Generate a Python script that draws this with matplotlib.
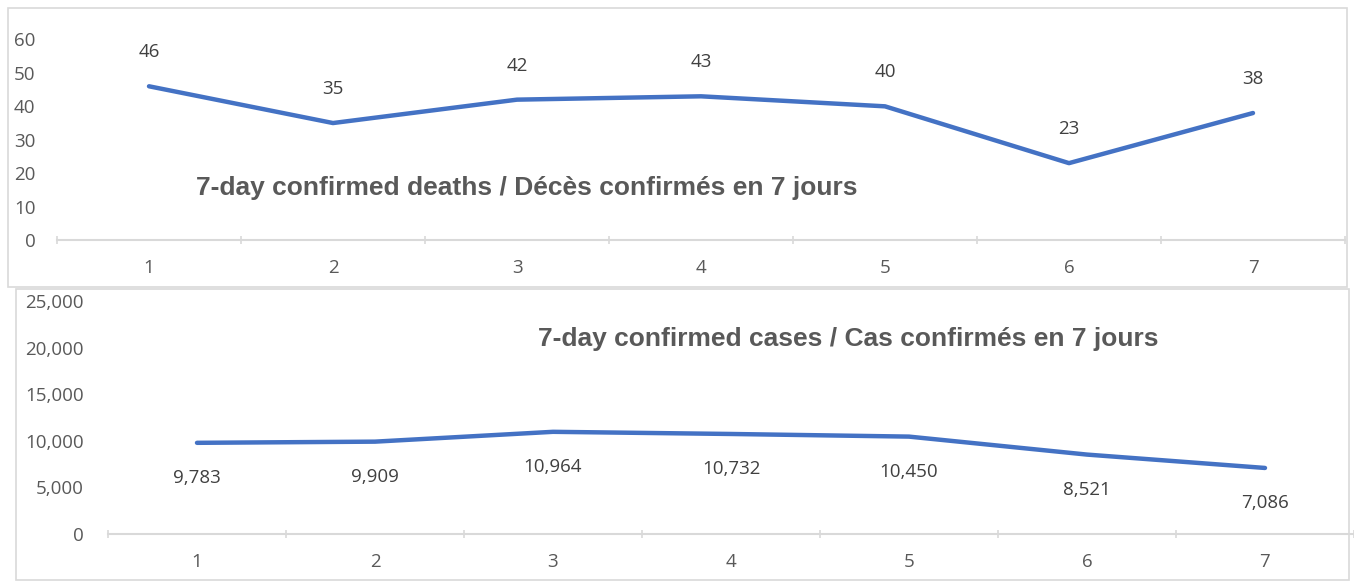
import matplotlib
matplotlib.use("Agg")
import matplotlib.pyplot as plt
from matplotlib.patches import Rectangle
from matplotlib.ticker import FuncFormatter, FixedLocator

days = [1, 2, 3, 4, 5, 6, 7]
deaths = [46, 35, 42, 43, 40, 23, 38]
cases = [9783, 9909, 10964, 10732, 10450, 8521, 7086]
deaths_title = "7-day confirmed deaths / Décès confirmés en 7 jours"
cases_title = "7-day confirmed cases / Cas confirmés en 7 jours"

W, H = 1354, 581
fig = plt.figure(figsize=(W / 100, H / 100), dpi=100)
fig.patch.set_facecolor("white")

LINE = "#4472C4"
TXT = "#595959"
LBL = "#404040"
GRID = "#D9D9D9"
FONT = ["Open Sans", "DejaVu Sans"]
FS = 13.5


def px_axes(x0, x1, y_top, y_bot):
    return fig.add_axes([x0 / W, (H - y_bot) / H, (x1 - x0) / W, (y_bot - y_top) / H])


def frame(x0, y0, x1, y1):
    fig.patches.append(Rectangle((x0 / W, (H - y1) / H), (x1 - x0) / W, (y1 - y0) / H,
                                 transform=fig.transFigure, fill=False,
                                 edgecolor=GRID, linewidth=1.2))


frame(8, 8, 1347, 287)
frame(16, 289, 1349, 580)


def style(ax, ylim, yticks, fmt, ypad):
    ax.set_xlim(0.5, 7.5)
    ax.set_ylim(*ylim)
    for s in ["left", "right", "top"]:
        ax.spines[s].set_visible(False)
    ax.spines["bottom"].set_color(GRID)
    ax.spines["bottom"].set_linewidth(1.5)
    ax.set_facecolor("none")
    ax.set_xticks(days)
    ax.set_xticklabels([str(d) for d in days], fontsize=FS, color=TXT, family=FONT)
    ax.tick_params(axis="x", which="major", length=0, pad=14)
    ax.xaxis.set_minor_locator(FixedLocator([d + 0.5 for d in [0] + days]))
    ax.tick_params(axis="x", which="minor", length=6, direction="inout", color=GRID, width=1.2)
    ax.set_yticks(yticks)
    ax.yaxis.set_major_formatter(FuncFormatter(fmt))
    ax.tick_params(axis="y", length=0, pad=ypad, labelsize=FS, labelcolor=TXT)
    for t in ax.get_yticklabels():
        t.set_family(FONT)


# Top: deaths
ax1 = px_axes(57, 1345, 39.5, 240)
ax1.plot(days, deaths, color=LINE, linewidth=3.2, solid_capstyle="round", clip_on=False)
style(ax1, (0, 60), range(0, 61, 10), lambda v, p: f"{int(v)}", 15.5)
for d, v in zip(days, deaths):
    ax1.annotate(f"{v}", (d, v), xytext=(0, 24.5), textcoords="offset points",
                 ha="center", va="center", fontsize=FS, color=LBL, family=FONT)
ax1.text(527 / W, (H - 188) / H, deaths_title, transform=fig.transFigure, ha="center",
         va="center", fontsize=19, fontweight="bold", color=TXT,
         family=["Liberation Sans", "DejaVu Sans"])

# Bottom: cases
ax2 = px_axes(108, 1354, 301, 534)
ax2.plot(days, cases, color=LINE, linewidth=3.2, solid_capstyle="round", clip_on=False)
style(ax2, (0, 25000), range(0, 25001, 5000), lambda v, p: f"{int(v):,}", 17.5)
for d, v in zip(days, cases):
    ax2.annotate(f"{v:,}", (d, v), xytext=(0, -25.5), textcoords="offset points",
                 ha="center", va="center", fontsize=FS, color=LBL, family=FONT)
ax2.text(848 / W, (H - 339) / H, cases_title, transform=fig.transFigure, ha="center",
         va="center", fontsize=19, fontweight="bold", color=TXT,
         family=["Liberation Sans", "DejaVu Sans"])

fig.savefig("out.png", dpi=100, facecolor="white")
